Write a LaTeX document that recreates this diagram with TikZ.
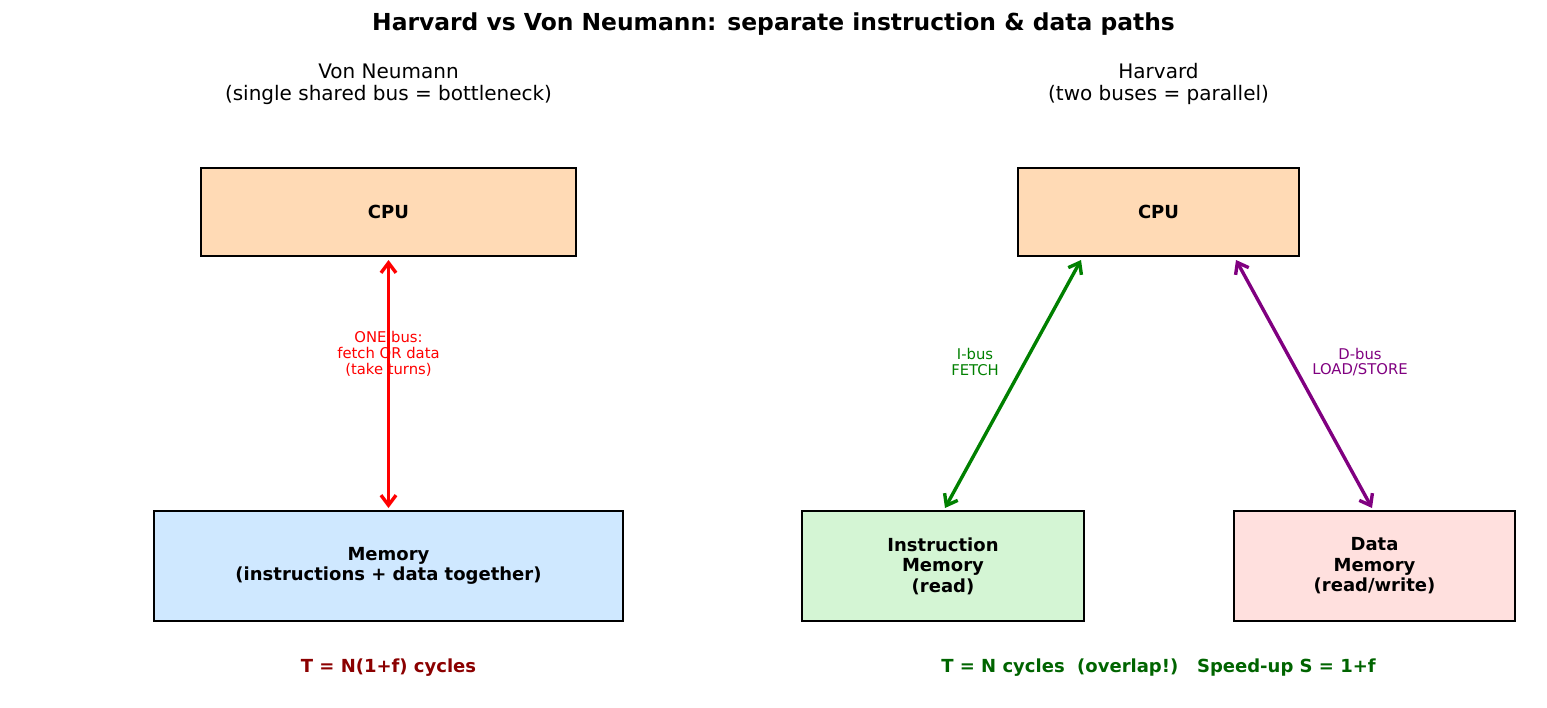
\documentclass[tikz,border=0pt]{standalone}
\usepackage{fontspec}
\setmainfont{DejaVu Sans}
\usetikzlibrary{arrows.meta}
\definecolor{cpufill}{HTML}{FFDAB5}
\definecolor{memfill}{HTML}{CFE8FF}
\definecolor{insfill}{HTML}{D4F5D4}
\definecolor{datfill}{HTML}{FFE0DE}
\definecolor{mplgreen}{HTML}{008000}
\definecolor{mplpurple}{HTML}{800080}
\definecolor{mplred}{HTML}{FF0000}
\definecolor{mpldarkred}{HTML}{8B0000}
\definecolor{mpldarkgreen}{HTML}{006400}
\tikzset{
  box/.style={draw=black, line width=1.1pt, inner sep=0pt, align=center, font=\fontsize{9}{10.3}\selectfont\bfseries},
  bus/.style={line width=1.7pt, {Straight Barb[length=5pt,width=7.5pt]}-{Straight Barb[length=5pt,width=7.5pt]}},
  buslabel/.style={align=center, font=\fontsize{7.4}{7.9}\selectfont},
  subtitle/.style={align=center, font=\fontsize{10}{11}\selectfont},
  result/.style={font=\fontsize{9}{10.5}\selectfont\bfseries}
}
\begin{document}
\begin{tikzpicture}[x=0.5pt,y=-0.5pt]
\useasboundingbox (0,0) rectangle (1547,707);
\node[font=\fontsize{11.7}{14}\selectfont\bfseries] (title) at (773.5,24) {Harvard vs Von Neumann: separate instruction \& data paths};
\node[subtitle] (vntitle) at (388.5,84) {Von Neumann\\(single shared bus = bottleneck)};
\node[subtitle] (hvtitle) at (1158.5,84) {Harvard\\(two buses = parallel)};
% Von Neumann
\node[box, fill=cpufill, minimum width=187.5pt, minimum height=44pt] (vcpu) at (388.5,212) {CPU};
\node[box, fill=memfill, minimum width=234.5pt, minimum height=55pt] (vmem) at (388.5,566) {Memory\\(instructions + data together)};
\coordinate (r1) at (388.5,260);
\coordinate (r2) at (388.5,508);
\draw[bus, mplred] (r1) -- (r2);
\node[buslabel, text=mplred] (vlab) at (388.5,354) {ONE bus:\\fetch OR data\\(take turns)};
\node[result, text=mpldarkred] (vres) at (388.5,668) {T = N(1+f) cycles};
% Harvard
\node[box, fill=cpufill, minimum width=140.5pt, minimum height=44pt] (hcpu) at (1158.5,212) {CPU};
\node[box, fill=insfill, minimum width=141pt, minimum height=55pt] (imem) at (943,566) {Instruction\\Memory\\(read)};
\node[box, fill=datfill, minimum width=140.5pt, minimum height=55pt] (dmem) at (1374.5,566) {Data\\Memory\\(read/write)};
\coordinate (g1) at (1081,260);
\coordinate (g2) at (945,508);
\coordinate (p1) at (1236,260);
\coordinate (p2) at (1372,508);
\draw[bus, mplgreen] (g1) -- (g2);
\draw[bus, mplpurple] (p1) -- (p2);
\node[buslabel, text=mplgreen] (ilab) at (975,362) {I-bus\\FETCH};
\node[buslabel, text=mplpurple] (dlab) at (1360,362) {D-bus\\LOAD/STORE};
\node[result, text=mpldarkgreen] (hres) at (1158.5,668) {T = N cycles\ \ (overlap!)\ \ \ Speed-up S = 1+f};
\end{tikzpicture}
\end{document}
